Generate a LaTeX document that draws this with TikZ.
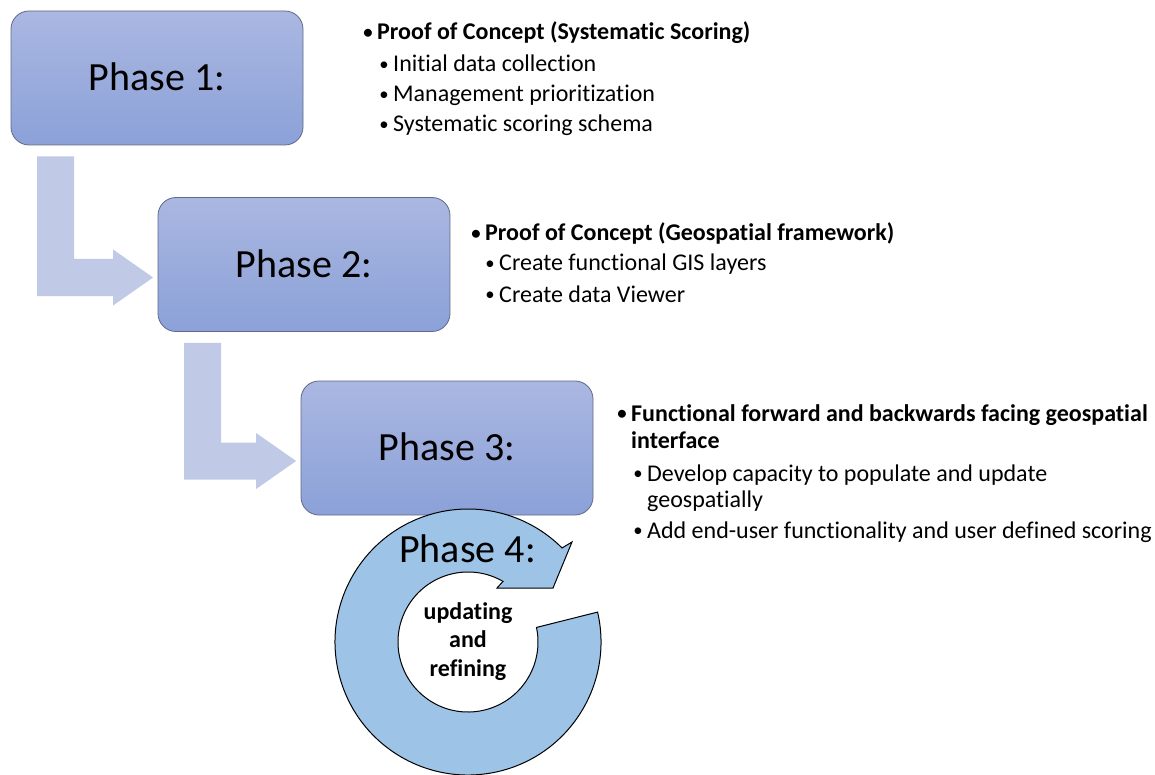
\documentclass[tikz,border=0pt]{standalone}
\usepackage{fontspec}
\setmainfont{Carlito}[Ligatures={NoCommon}]
\usetikzlibrary{calc}
\definecolor{boxtop}{RGB}{170,183,225}
\definecolor{boxbot}{RGB}{139,161,216}
\definecolor{boxline}{RGB}{95,105,135}
\definecolor{bentc}{RGB}{192,202,230}
\definecolor{ringc}{RGB}{157,195,230}
\newcommand\bul{\llap{\raisebox{1.2pt}{\scalebox{0.78}{•}}\kern4.5pt}}
\newcommand\bentarrow[2]{%
  \fill[bentc] let \p1=(#1.south west), \p2=(#2.west) in
    (\x1+26.5pt,\y1-11pt) -- (\x1+63.5pt,\y1-11pt)
    -- (\x1+63.5pt,\y2-13pt+18.5pt) -- (\x2-44.5pt,\y2-13pt+18.5pt)
    -- (\x2-44.5pt,\y2-13pt+28pt) -- (\x2-4.5pt,\y2-13pt)
    -- (\x2-44.5pt,\y2-13pt-28pt) -- (\x2-44.5pt,\y2-13pt-18.5pt)
    -- (\x1+26.5pt,\y2-13pt-18.5pt) -- cycle;}
\begin{document}
\begin{tikzpicture}[x=1pt,y=-1pt,
  phase/.style={draw=boxline, line width=0.8pt, rounded corners=18pt,
    top color=boxtop, bottom color=boxbot, minimum width=292pt,
    minimum height=134pt, inner sep=0pt, font=\fontsize{40}{48}\selectfont,
    text height=25pt, text depth=0pt},
  item/.style={anchor=base west, inner sep=0pt, font=\fontsize{24}{29}\selectfont},
  head/.style={item, font=\fontsize{24}{29}\selectfont\bfseries},
  ring/.style={draw=black, line width=1pt, fill=ringc, line join=miter}]
\useasboundingbox (0,0) rectangle (1155,775);

\node[phase] (b1) at (157,78) {Phase 1:};
\node[phase] (b2) at (304,264.5) {Phase 2:};
\node[phase] (b3) at (447,448) {Phase 3:};

\bentarrow{b1}{b2}
\bentarrow{b2}{b3}

% ring
\coordinate (C) at (468,642);
\draw[ring] ($(C)+(-13:133)$) arc[start angle=-13, end angle=315, radius=133]
  -- (572,542) -- (553,588) -- (497,588) -- ($(C)+(300:70)$)
  arc[start angle=300, end angle=-12, radius=70] -- cycle;
\node[anchor=base, inner sep=0pt, font=\fontsize{40}{48}\selectfont] (p4) at (467.5,562) {Phase 4:};
\node[inner sep=0pt, align=center, font=\fontsize{24}{28.5}\selectfont\bfseries] (ref) at (468,641.5) {updating\\and\\refining};

% Phase 1 text
\node[head] (t1h) at (377,40) {\bul Proof of Concept (Systematic Scoring)};
\node[item] (t1a) at (393,71.5) {\bul Initial data collection};
\node[item] (t1b) at (393,102) {\bul Management prioritization};
\node[item] (t1c) at (393,132) {\bul Systematic scoring schema};

% Phase 2 text
\node[head] (t2h) at (485,241) {\bul Proof of Concept (Geospatial framework)};
\node[item] (t2a) at (499,271) {\bul Create functional GIS layers};
\node[item] (t2b) at (499,302) {\bul Create data Viewer};

% Phase 3 text
\node[head] (t3h) at (631,421) {\bul Functional forward and backwards facing geospatial};
\node[head] (t3h2) at (631,448) {interface};
\node[item] (t3a) at (647,481) {\bul Develop capacity to populate and update};
\node[item] (t3a2) at (647,507) {geospatially};
\node[item] (t3b) at (647,538) {\bul Add end-user functionality and user defined scoring};
\end{tikzpicture}
\end{document}
